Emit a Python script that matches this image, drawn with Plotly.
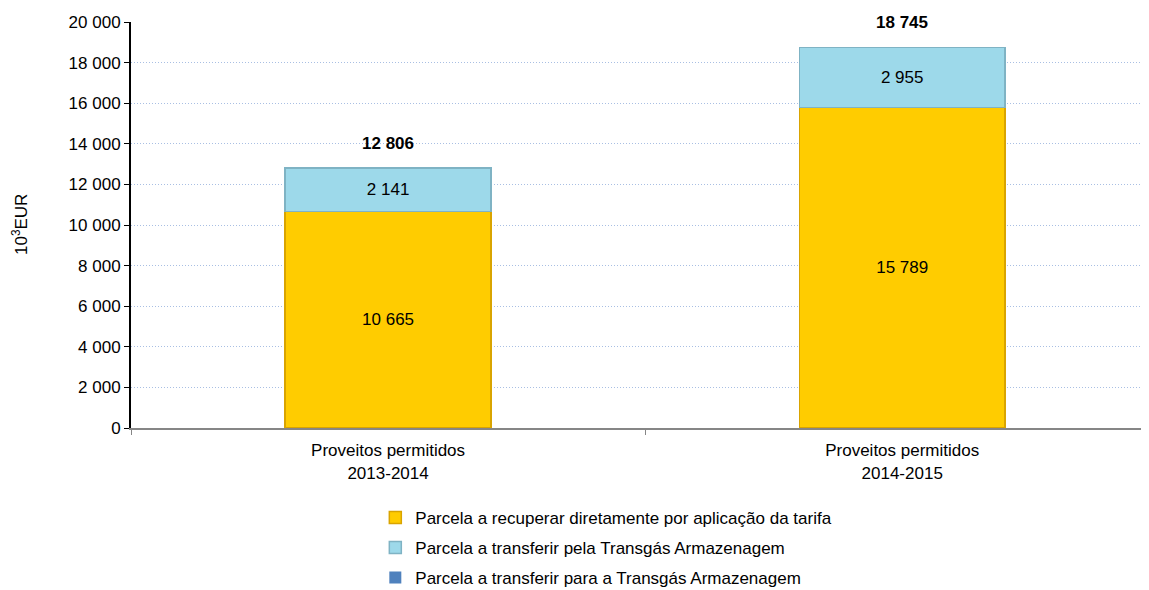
import plotly.graph_objects as go

categories = ["Proveitos permitidos<br>2013-2014", "Proveitos permitidos<br>2014-2015"]
series_names = [
    "Parcela a recuperar diretamente por aplicação da tarifa",
    "Parcela a transferir pela Transgás Armazenagem",
    "Parcela a transferir para a Transgás Armazenagem",
]
recuperar = [10665, 15789]
transferir_pela = [2141, 2955]
transferir_para = [0, 0]
totals = [12806, 18745]
y_ticks = [0, 2000, 4000, 6000, 8000, 10000, 12000, 14000, 16000, 18000, 20000]
y_title = "10<sup>3</sup>EUR"

FONT = "Liberation Sans, Arial, sans-serif"
FS = 17

fig = go.Figure()
fig.add_trace(go.Bar(
    x=categories, y=recuperar, name=series_names[0], legendgroup="a",
    marker=dict(color="#FFCC00", line=dict(color="#D9A400", width=1.5)),
    texttemplate="%{y:,.0f}", textposition="inside", insidetextanchor="middle",
    textfont=dict(color="#000000", size=FS, family=FONT), width=0.4,
))
fig.add_trace(go.Bar(
    x=categories, y=transferir_pela, name=series_names[1], legendgroup="b",
    marker=dict(color="#9DD9EA", line=dict(color="#7FB3C4", width=1.5)),
    texttemplate="%{y:,.0f}", textposition="inside", insidetextanchor="middle",
    textfont=dict(color="#000000", size=FS, family=FONT), width=0.4,
))
fig.add_trace(go.Bar(
    x=categories, y=transferir_para, name=series_names[2], legendgroup="c",
    marker=dict(color="#4F81BD", line=dict(color="#4F81BD", width=0)),
    width=0.4,
))

for c, t in zip(categories, totals):
    fig.add_annotation(x=c, y=t, text="<b>{:,}</b>".format(t).replace(",", " "),
                       showarrow=False, yshift=25, yanchor="middle",
                       font=dict(size=FS, family=FONT, color="#000000"))

fig.add_annotation(xref="paper", yref="paper", x=-0.109, y=0.5, text=y_title,
                   textangle=-90, showarrow=False, xanchor="center", yanchor="middle",
                   font=dict(size=FS, family=FONT, color="#000000"))

fig.update_layout(
    barmode="stack",
    width=1141, height=582,
    margin=dict(l=123, r=0, t=14, b=162, autoexpand=False),
    paper_bgcolor="white", plot_bgcolor="white",
    separators=", ",
    font=dict(family=FONT, size=FS, color="#000000"),
    showlegend=True,
    legend=dict(orientation="v", x=0.240, y=-0.177, xanchor="left", yanchor="top",
                traceorder="grouped", tracegroupgap=5,
                font=dict(size=FS, family=FONT, color="#000000"),
                itemwidth=30),
    xaxis=dict(range=[-0.5, 1.48], showline=True, linecolor="#868686", linewidth=2,
               ticks="outside", tickson="boundaries", ticklen=5, tickcolor="#868686",
               showgrid=False, tickfont=dict(size=FS, family=FONT),
               automargin=False, ticklabelstandoff=6),
    yaxis=dict(range=[0, 20000], tickvals=y_ticks, tickformat=",d",
               showline=True, linecolor="#000000", linewidth=2,
               ticks="outside", ticklen=5, tickcolor="#000000",
               showgrid=True, gridcolor="#A9BFE3", griddash="1px,2px", gridwidth=1,
               zeroline=False, tickfont=dict(size=FS, family=FONT),
               automargin=False),
)

fig.write_html("out.html")
